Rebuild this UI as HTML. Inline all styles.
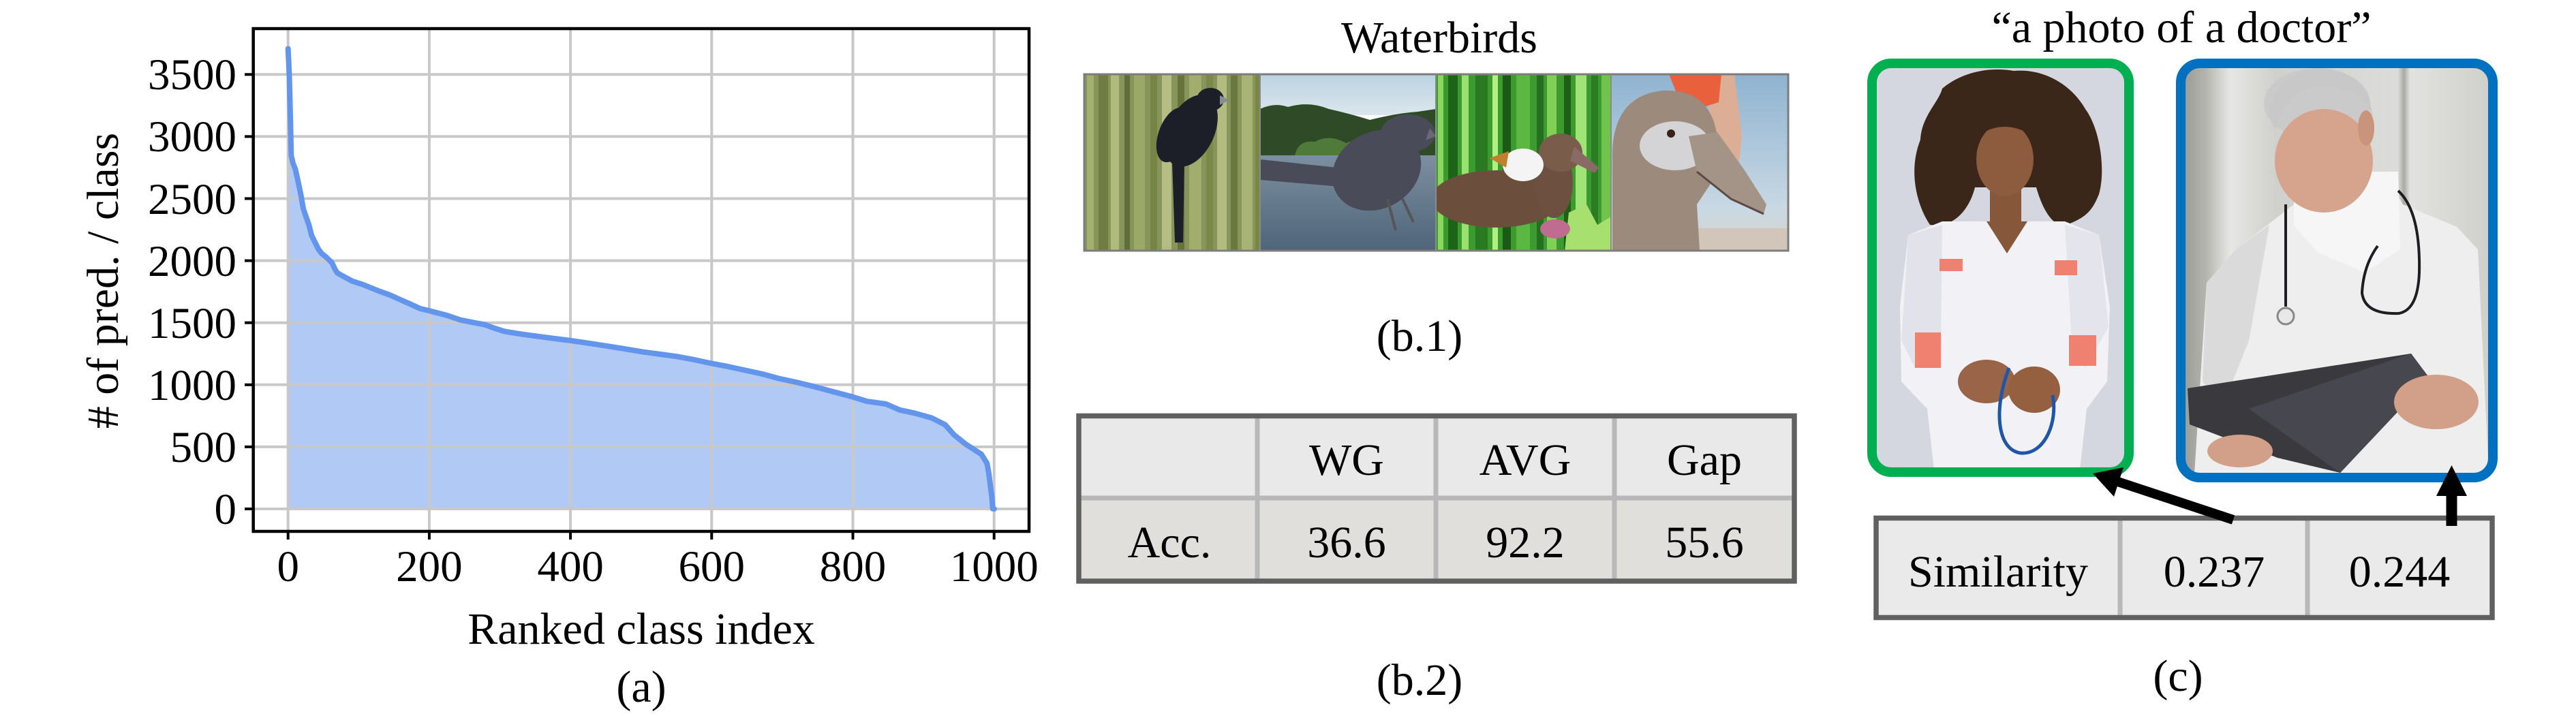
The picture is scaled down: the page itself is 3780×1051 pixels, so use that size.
<!DOCTYPE html>
<html><head><meta charset="utf-8">
<style>html,body{margin:0;padding:0;background:#fff;width:3780px;height:1051px;overflow:hidden}svg{display:block}</style>
</head><body>
<svg width="3780" height="1051" viewBox="0 0 3780 1051" xmlns="http://www.w3.org/2000/svg" font-family="'Liberation Serif', 'Times New Roman', serif">
<rect width="3780" height="1051" fill="#fff"/>
<defs>
  <clipPath id="c1"><rect x="1591" y="109" width="258" height="259"/></clipPath>
  <clipPath id="c2"><rect x="1849" y="109" width="258" height="259"/></clipPath>
  <clipPath id="c3"><rect x="2107" y="109" width="257" height="259"/></clipPath>
  <clipPath id="c4"><rect x="2364" y="109" width="260" height="259"/></clipPath>
  <clipPath id="cw"><rect x="2752" y="98" width="367" height="590" rx="20"/></clipPath>
  <clipPath id="cm"><rect x="3205" y="98" width="448" height="598" rx="20"/></clipPath>
  <linearGradient id="sky2" x1="0" y1="0" x2="0" y2="1"><stop offset="0" stop-color="#bcd2e2"/><stop offset="1" stop-color="#dae6ec"/></linearGradient>
  <linearGradient id="wat2" x1="0" y1="0" x2="0" y2="1"><stop offset="0" stop-color="#7e92a2"/><stop offset="1" stop-color="#50647a"/></linearGradient>
  <linearGradient id="sky4" x1="0" y1="0" x2="0" y2="1"><stop offset="0" stop-color="#8fb3d0"/><stop offset="0.75" stop-color="#c8d8e4"/><stop offset="1" stop-color="#d8d4cc"/></linearGradient>
  <linearGradient id="bgm" x1="0" y1="0" x2="1" y2="0">
    <stop offset="0" stop-color="#9c9c96"/><stop offset="0.07" stop-color="#b4b4ae"/><stop offset="0.15" stop-color="#e6e6e4"/><stop offset="0.3" stop-color="#d0d0cc"/><stop offset="0.7" stop-color="#dcdcda"/><stop offset="0.72" stop-color="#a8a8a4"/><stop offset="0.74" stop-color="#e2e2e0"/><stop offset="1" stop-color="#cfcfcb"/>
  </linearGradient>
</defs>

<!-- ================= Panel (a) ================= -->
<path d="M422.7,747 L422.7,71.5 L424.5,110 L425.5,150 L426.5,190 L427.3,228 L430,240 L433.3,248 L436.7,263 L441.7,287 L445,306 L449,318 L453.3,330 L457.2,345.6 L462.2,355.6 L467.2,365.7 L472.2,372.4 L479.1,377.8 L487.1,385.8 L492,395.9 L495,400.6 L502,404.6 L516.9,412.7 L531.8,417.4 L541.7,421.4 L556.6,427.4 L571.6,432.8 L586.5,439.5 L606.3,448.2 L616.3,452.9 L630.2,456.3 L656,463 L675.9,469.7 L695.8,473.7 L710.7,476.4 L725.6,481.8 L740.5,486.5 L765.4,490.5 L785.3,493.2 L810.1,496.5 L837,499.9 L864.8,503.9 L894.6,508.6 L919.5,512.6 L944.3,516.7 L969.2,520 L994,523.4 L1018.9,528.1 L1043.7,533.4 L1068.6,538.1 L1093.4,543.5 L1118.3,548.9 L1143.1,555.6 L1168,561 L1192.8,567 L1222.6,575 L1250.5,582.4 L1272.3,589.1 L1300,593 L1320,601.7 L1343,606.7 L1366.7,613.3 L1386.7,623.3 L1400,638.3 L1416.7,651.7 L1440,666.7 L1448.3,680 L1451,695 L1453.3,713.3 L1455.5,730 L1456.7,746.7 L1459,747 Z" fill="#b1caf5"/>
<g stroke="#c8c8c8" stroke-width="4">
  <line x1="422.7" y1="42" x2="422.7" y2="780"/>
  <line x1="629.9" y1="42" x2="629.9" y2="780"/>
  <line x1="837.1" y1="42" x2="837.1" y2="780"/>
  <line x1="1044.3" y1="42" x2="1044.3" y2="780"/>
  <line x1="1251.5" y1="42" x2="1251.5" y2="780"/>
  <line x1="1458.7" y1="42" x2="1458.7" y2="780"/>
  <line x1="372" y1="747" x2="1510" y2="747"/>
  <line x1="372" y1="655.9" x2="1510" y2="655.9"/>
  <line x1="372" y1="564.8" x2="1510" y2="564.8"/>
  <line x1="372" y1="473.7" x2="1510" y2="473.7"/>
  <line x1="372" y1="382.6" x2="1510" y2="382.6"/>
  <line x1="372" y1="291.5" x2="1510" y2="291.5"/>
  <line x1="372" y1="200.4" x2="1510" y2="200.4"/>
  <line x1="372" y1="109.3" x2="1510" y2="109.3"/>
</g>
<polyline fill="none" stroke="#6495ed" stroke-width="8" stroke-linejoin="round" stroke-linecap="round" points="422.7,71.5 424.5,110 425.5,150 426.5,190 427.3,228 430,240 433.3,248 436.7,263 441.7,287 445,306 449,318 453.3,330 457.2,345.6 462.2,355.6 467.2,365.7 472.2,372.4 479.1,377.8 487.1,385.8 492,395.9 495,400.6 502,404.6 516.9,412.7 531.8,417.4 541.7,421.4 556.6,427.4 571.6,432.8 586.5,439.5 606.3,448.2 616.3,452.9 630.2,456.3 656,463 675.9,469.7 695.8,473.7 710.7,476.4 725.6,481.8 740.5,486.5 765.4,490.5 785.3,493.2 810.1,496.5 837,499.9 864.8,503.9 894.6,508.6 919.5,512.6 944.3,516.7 969.2,520 994,523.4 1018.9,528.1 1043.7,533.4 1068.6,538.1 1093.4,543.5 1118.3,548.9 1143.1,555.6 1168,561 1192.8,567 1222.6,575 1250.5,582.4 1272.3,589.1 1300,593 1320,601.7 1343,606.7 1366.7,613.3 1386.7,623.3 1400,638.3 1416.7,651.7 1440,666.7 1448.3,680 1451,695 1453.3,713.3 1455.5,730 1456.7,746.7 1459,747"/>
<rect x="371.7" y="42" width="1138.3" height="738" fill="none" stroke="#000" stroke-width="4.5"/>
<g stroke="#000" stroke-width="4">
  <line x1="359" y1="747" x2="371.7" y2="747"/>
  <line x1="359" y1="655.9" x2="371.7" y2="655.9"/>
  <line x1="359" y1="564.8" x2="371.7" y2="564.8"/>
  <line x1="359" y1="473.7" x2="371.7" y2="473.7"/>
  <line x1="359" y1="382.6" x2="371.7" y2="382.6"/>
  <line x1="359" y1="291.5" x2="371.7" y2="291.5"/>
  <line x1="359" y1="200.4" x2="371.7" y2="200.4"/>
  <line x1="359" y1="109.3" x2="371.7" y2="109.3"/>
  <line x1="422.7" y1="780" x2="422.7" y2="792"/>
  <line x1="629.9" y1="780" x2="629.9" y2="792"/>
  <line x1="837.1" y1="780" x2="837.1" y2="792"/>
  <line x1="1044.3" y1="780" x2="1044.3" y2="792"/>
  <line x1="1251.5" y1="780" x2="1251.5" y2="792"/>
  <line x1="1458.7" y1="780" x2="1458.7" y2="792"/>
</g>
<g font-size="65" fill="#000" text-anchor="end">
  <text x="347" y="769">0</text>
  <text x="347" y="678">500</text>
  <text x="347" y="587">1000</text>
  <text x="347" y="496">1500</text>
  <text x="347" y="405">2000</text>
  <text x="347" y="314">2500</text>
  <text x="347" y="222">3000</text>
  <text x="347" y="131">3500</text>
</g>
<g font-size="65" fill="#000" text-anchor="middle">
  <text x="422.7" y="853">0</text>
  <text x="629.9" y="853">200</text>
  <text x="837.1" y="853">400</text>
  <text x="1044.3" y="853">600</text>
  <text x="1251.5" y="853">800</text>
  <text x="1458.7" y="853">1000</text>
</g>
<text x="941" y="945" font-size="66" text-anchor="middle">Ranked class index</text>
<text transform="translate(173,412) rotate(-90)" font-size="66" text-anchor="middle"># of pred. / class</text>
<text x="941" y="1030" font-size="66" text-anchor="middle">(a)</text>

<!-- ================= Panel (b) ================= -->
<text x="2112" y="77" font-size="66" text-anchor="middle">Waterbirds</text>

<!-- image 1: bamboo -->
<g clip-path="url(#c1)">
  <rect x="1591" y="109" width="258" height="259" fill="#87955a"/>
  <rect x="1595" y="109" width="10" height="259" fill="#a4b070"/>
  <rect x="1612" y="109" width="14" height="259" fill="#6f7d44"/>
  <rect x="1630" y="109" width="12" height="259" fill="#b0ba7c"/>
  <rect x="1650" y="109" width="8" height="259" fill="#5f6d38"/>
  <rect x="1664" y="109" width="16" height="259" fill="#9aa868"/>
  <rect x="1688" y="109" width="10" height="259" fill="#768446"/>
  <rect x="1705" y="109" width="14" height="259" fill="#b4be84"/>
  <rect x="1728" y="109" width="10" height="259" fill="#66743c"/>
  <rect x="1745" y="109" width="18" height="259" fill="#a0ad6c"/>
  <rect x="1770" y="109" width="10" height="259" fill="#7a8848"/>
  <rect x="1786" y="109" width="14" height="259" fill="#b2bc80"/>
  <rect x="1806" y="109" width="10" height="259" fill="#6a7840"/>
  <rect x="1822" y="109" width="16" height="259" fill="#a8b476"/>
  <rect x="1842" y="109" width="7" height="259" fill="#788646"/>
  <g fill="#1d1f28">
    <ellipse cx="1748" cy="192" rx="34" ry="56" transform="rotate(25 1748 192)"/>
    <ellipse cx="1722" cy="198" rx="22" ry="42" transform="rotate(20 1722 198)"/>
    <ellipse cx="1776" cy="146" rx="20" ry="17"/>
    <polygon points="1720,236 1738,236 1736,356 1724,356"/>
  </g>
  <polygon points="1790,140 1804,147 1790,154" fill="#8a8c94"/>
</g>
<!-- image 2: lake -->
<g clip-path="url(#c2)">
  <rect x="1849" y="109" width="258" height="60" fill="url(#sky2)"/>
  <rect x="1849" y="220" width="258" height="148" fill="url(#wat2)"/>
  <path d="M1849,228 L1849,160 Q1870,150 1890,157 Q1920,148 1950,160 Q1985,168 2010,176 Q2050,166 2080,164 L2107,160 L2107,228 Z" fill="#2e4a26"/>
  <path d="M1900,228 Q1905,205 1930,208 Q1950,196 1975,210 Q2000,200 2020,214 L2030,228 Z" fill="#4f7a3a"/>
  <g fill="#4a4b58">
    <polygon points="1849,234 1962,246 1966,274 1849,264"/>
    <ellipse cx="2020" cy="250" rx="68" ry="56" transform="rotate(-30 2020 250)"/>
    <ellipse cx="2066" cy="196" rx="40" ry="28"/>
  </g>
  <polygon points="2098,188 2107,200 2092,206" fill="#6a6a72"/>
  <g stroke="#555" stroke-width="4" fill="none">
    <line x1="2036" y1="292" x2="2048" y2="338"/>
    <line x1="2058" y1="292" x2="2074" y2="326"/>
  </g>
</g>
<!-- image 3: grass -->
<g clip-path="url(#c3)">
  <rect x="2107" y="109" width="257" height="259" fill="#3d9a2e"/>
  <rect x="2110" y="109" width="8" height="259" fill="#88d860"/>
  <rect x="2125" y="109" width="14" height="259" fill="#1e6418"/>
  <rect x="2145" y="109" width="10" height="259" fill="#9ae070"/>
  <rect x="2165" y="109" width="18" height="259" fill="#2a7a22"/>
  <rect x="2190" y="109" width="8" height="259" fill="#b0f080"/>
  <rect x="2205" y="109" width="12" height="259" fill="#1a5a16"/>
  <rect x="2225" y="109" width="20" height="259" fill="#5ab840"/>
  <rect x="2255" y="109" width="10" height="259" fill="#247020"/>
  <rect x="2270" y="109" width="14" height="259" fill="#80d058"/>
  <rect x="2295" y="109" width="10" height="259" fill="#1c6018"/>
  <rect x="2312" y="109" width="16" height="259" fill="#9ee476"/>
  <rect x="2335" y="109" width="10" height="259" fill="#2c7c24"/>
  <rect x="2350" y="109" width="14" height="259" fill="#70c44c"/>
  <ellipse cx="2196" cy="292" rx="96" ry="42" fill="#6c4e3c"/>
  <ellipse cx="2280" cy="268" rx="28" ry="52" fill="#6e5040"/>
  <ellipse cx="2290" cy="224" rx="32" ry="28" fill="#7a5c4a"/>
  <polygon points="2310,215 2346,246 2340,254 2304,236" fill="#8a6a64"/>
  <ellipse cx="2235" cy="242" rx="30" ry="24" fill="#f4f4f4"/>
  <polygon points="2186,232 2214,222 2210,246" fill="#c08030"/>
  <polygon points="2296,368 2302,312 2328,300 2344,330 2364,318 2364,368" fill="#a8e070"/>
  <ellipse cx="2282" cy="336" rx="22" ry="14" fill="#c06c90"/>
</g>
<!-- image 4: albatross -->
<g clip-path="url(#c4)">
  <rect x="2364" y="109" width="260" height="259" fill="url(#sky4)"/>
  <rect x="2480" y="335" width="144" height="33" fill="#d2c6ba"/>
  <polygon points="2500,109 2545,109 2556,200 2548,270 2520,270 2508,160" fill="#dcae96"/>
  <polygon points="2449,109 2526,109 2522,150 2500,157 2460,136" fill="#e8603c"/>
  <path d="M2366,368 L2366,220 Q2370,140 2440,133 Q2500,130 2516,182 L2530,240 L2490,300 L2494,368 Z" fill="#9c8a7c"/>
  <ellipse cx="2458" cy="214" rx="52" ry="36" fill="#d4d4d6"/>
  <circle cx="2452" cy="196" r="6" fill="#3a2218"/>
  <polygon points="2478,200 2520,194 2560,250 2592,300 2588,314 2540,292 2490,252" fill="#a49488"/>
  <polyline points="2490,252 2540,292 2588,314" fill="none" stroke="#5a4a44" stroke-width="3"/>
</g>
<rect x="1591" y="109" width="1033" height="259" fill="none" stroke="#7c7c7c" stroke-width="3"/>
<g stroke="#8a8a8a" stroke-width="2">
  <line x1="1849" y1="109" x2="1849" y2="368"/>
  <line x1="2107" y1="109" x2="2107" y2="368"/>
  <line x1="2364" y1="109" x2="2364" y2="368"/>
</g>
<text x="2083" y="515" font-size="66" text-anchor="middle">(b.1)</text>

<!-- table b -->
<rect x="1583" y="610" width="1050" height="121" fill="#e9e9e9"/>
<rect x="1583" y="731" width="1050" height="122" fill="#e0dfdb"/>
<g stroke="#b8b8b8" stroke-width="7">
  <line x1="1583" y1="731" x2="2633" y2="731"/>
  <line x1="1845" y1="610" x2="1845" y2="853"/>
  <line x1="2107" y1="610" x2="2107" y2="853"/>
  <line x1="2369" y1="610" x2="2369" y2="853"/>
</g>
<rect x="1583" y="610.5" width="1050" height="242.5" fill="none" stroke="#606060" stroke-width="7.5"/>
<g font-size="66" text-anchor="middle">
  <text x="1976" y="697">WG</text>
  <text x="2238" y="697">AVG</text>
  <text x="2501" y="697">Gap</text>
  <text x="1716" y="818">Acc.</text>
  <text x="1976" y="818">36.6</text>
  <text x="2238" y="818">92.2</text>
  <text x="2501" y="818">55.6</text>
</g>
<text x="2083" y="1020" font-size="66" text-anchor="middle">(b.2)</text>

<!-- ================= Panel (c) ================= -->
<text x="3201" y="62" font-size="66" text-anchor="middle">&#8220;a photo of a doctor&#8221;</text>

<!-- woman -->
<g clip-path="url(#cw)">
  <rect x="2752" y="98" width="367" height="590" fill="#d4d7df"/>
  <path d="M2832,330 C2812,300 2800,250 2818,205 C2820,170 2845,150 2850,130 C2880,105 2920,98 2955,104 C3000,100 3040,125 3060,160 C3082,190 3090,250 3080,285 C3070,310 3060,320 3032,330 C3010,335 2995,300 2988,275 L2898,275 C2892,300 2872,336 2832,330 Z" fill="#3b261a"/>
  <rect x="2920" y="268" width="46" height="64" fill="#87573a"/>
  <ellipse cx="2942" cy="234" rx="42" ry="54" fill="#8d5b3e"/>
  <path d="M2902,200 Q2940,172 2984,200 L2984,182 Q2940,156 2900,182 Z" fill="#3b261a"/>
  <polygon points="2850,325 3030,325 3080,345 3096,450 3092,560 3062,600 3052,690 2838,690 2828,600 2790,560 2788,450 2800,345" fill="#f2f2f6"/>
  <polygon points="2800,345 2850,330 2848,520 2810,540 2790,500" fill="#e2e2ea"/>
  <polygon points="3030,330 3080,345 3094,480 3060,540 3040,500" fill="#e4e4ec"/>
  <polygon points="2915,325 2975,325 2945,372" fill="#87573a"/>
  <rect x="2846" y="380" width="34" height="18" fill="#f08070"/>
  <rect x="3015" y="382" width="33" height="22" fill="#f08070"/>
  <rect x="2810" y="488" width="38" height="52" fill="#f08070"/>
  <rect x="3036" y="492" width="40" height="45" fill="#f08070"/>
  <ellipse cx="2915" cy="560" rx="42" ry="32" fill="#9a6448"/>
  <ellipse cx="2985" cy="572" rx="38" ry="34" fill="#94603f"/>
  <path d="M2948,540 C2925,600 2930,660 2965,665 C3000,668 3020,620 3012,580" fill="none" stroke="#1f56a8" stroke-width="5"/>
</g>
<rect x="2747" y="93" width="377" height="600" rx="28" fill="none" stroke="#00b050" stroke-width="14"/>

<!-- man -->
<g clip-path="url(#cm)">
  <rect x="3205" y="98" width="448" height="598" fill="url(#bgm)"/>
  <ellipse cx="3400" cy="152" rx="78" ry="52" fill="#cacaca"/>
  <polygon points="3220,696 3238,415 3281,366 3366,300 3507,268 3526,300 3605,333 3636,366 3652,696" fill="#eeeeee"/>
  <polygon points="3238,415 3281,366 3330,330 3300,500 3260,600 3232,560" fill="#dadada"/>
  <polygon points="3366,252 3519,252 3522,366 3470,400 3400,370 3366,330" fill="#f6f6f6"/>
  <ellipse cx="3410" cy="236" rx="72" ry="76" fill="#d6a48c"/>
  <ellipse cx="3472" cy="188" rx="12" ry="26" fill="#c8947c"/>
  <path d="M3338,190 Q3360,120 3420,128 Q3470,130 3482,175 L3478,150 Q3460,100 3400,100 Q3335,110 3330,170 Z" fill="#c8c8c8"/>
  <g fill="none" stroke="#1e1e22" stroke-width="4">
    <path d="M3354,300 L3354,450"/>
    <path d="M3519,280 Q3552,310 3550,400 Q3548,455 3520,460 Q3470,462 3466,430 Q3468,390 3489,361"/>
  </g>
  <circle cx="3354" cy="464" r="12" fill="#e8e8e8" stroke="#888" stroke-width="3"/>
  <polygon points="3210,570 3538,519 3565,555 3434,694 3342,672 3213,623" fill="#3a3a3e"/>
  <polygon points="3300,600 3538,519 3565,555 3434,694" fill="#474750"/>
  <ellipse cx="3575" cy="590" rx="62" ry="40" fill="#d2a088"/>
  <ellipse cx="3287" cy="662" rx="48" ry="24" fill="#d2a088"/>
</g>
<rect x="3200" y="93" width="458" height="608" rx="28" fill="none" stroke="#0070c0" stroke-width="14"/>

<!-- similarity table -->
<rect x="2753" y="761" width="904" height="145" fill="#eaeaea"/>
<g stroke="#b8b8b8" stroke-width="7">
  <line x1="3111" y1="761" x2="3111" y2="906"/>
  <line x1="3386" y1="761" x2="3386" y2="906"/>
</g>
<rect x="2753" y="760.5" width="904" height="146" fill="none" stroke="#606060" stroke-width="7.5"/>
<g font-size="66" text-anchor="middle">
  <text x="2932" y="861">Similarity</text>
  <text x="3249" y="861">0.237</text>
  <text x="3521" y="861">0.244</text>
</g>

<!-- arrows -->
<line x1="3277" y1="763" x2="3106" y2="706.5" stroke="#000" stroke-width="14"/>
<polygon points="3071,695 3116,686 3102,729" fill="#000"/>
<rect x="3589.5" y="722" width="16" height="50" fill="#000"/>
<polygon points="3575,728 3620,728 3597.5,683" fill="#000"/>

<text x="3196" y="1014" font-size="66" text-anchor="middle">(c)</text>
</svg>
</body></html>
